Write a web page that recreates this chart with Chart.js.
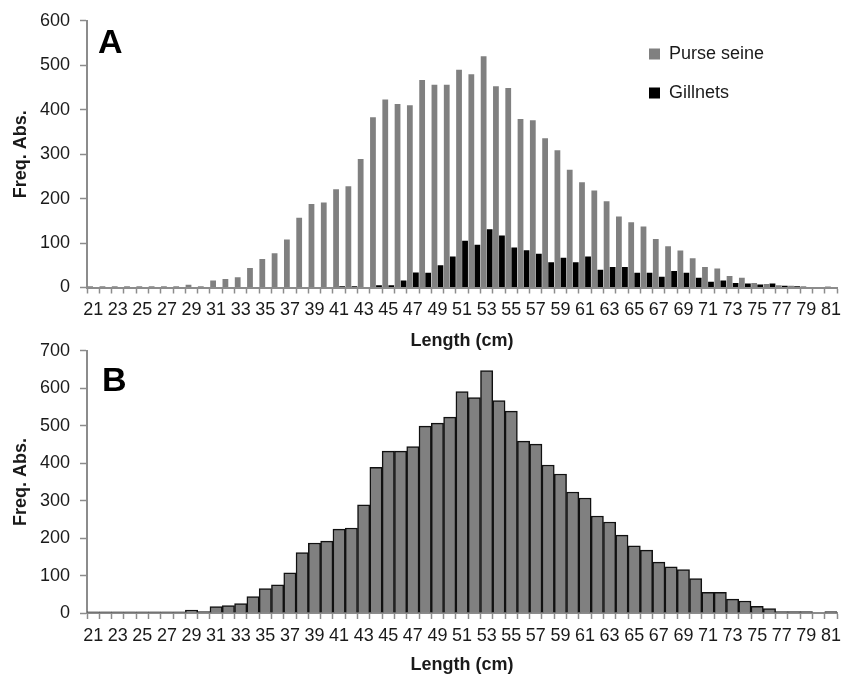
<!DOCTYPE html>
<html>
<head>
<meta charset="utf-8">
<script src="https://cdn.jsdelivr.net/npm/chart.js@4.4.1/dist/chart.umd.min.js"></script>
<style>
  body { margin: 0; background: #fff; }
  #wrap { position: relative; width: 847px; height: 682px; }
  #wrap canvas { position: absolute; left: 0; }
  #chartA { top: 0; }
  #chartB { top: 330px; }
</style>
</head>
<body>
<div id="wrap">
  <canvas id="chartA" width="847" height="355"></canvas>
  <canvas id="chartB" width="847" height="352"></canvas>
</div>
<script>
var lengths = [21,22,23,24,25,26,27,28,29,30,31,32,33,34,35,36,37,38,39,40,41,42,43,44,45,46,47,48,49,50,
  51,52,53,54,55,56,57,58,59,60,61,62,63,64,65,66,67,68,69,70,71,72,73,74,75,76,77,78,79,80,81];

// panel A
var purseSeine = [3,3,3,3,3,3,3,3,6,3,16,19,23,44,64,77,108,157,188,191,221,228,289,383,423,413,410,467,456,456,
  490,480,520,453,449,379,376,336,309,265,237,218,194,160,147,137,109,93,83,66,46,43,26,22,10,8,5,4,3,0,2];
var gillnets = [0,0,0,0,0,0,0,0,0,0,0,0,0,0,0,0,0,0,0,0,3,3,0,5,5,16,34,33,50,70,
  105,96,131,117,90,84,76,57,67,57,70,40,46,46,33,33,24,37,33,22,13,16,10,9,7,9,4,3,1,0,0];

// panel B
var total = [3,3,3,3,3,3,3,3,8,4,17,20,25,44,65,75,107,161,187,192,224,227,289,389,432,432,444,499,507,523,
  591,575,647,567,539,459,451,395,371,323,307,259,243,208,179,168,136,123,116,92,55,55,37,32,18,12,4,4,4,0,4];

var yTicksA = [0, 600, 100];
var yTicksB = [0, 700, 100];

var FONT = "'Liberation Sans', Arial, sans-serif";
var TXT = '#1a1a1a';
var AXIS = '#8c8c8c';

// big panel letter (A / B) in the upper left of the plot
var panelLetter = {
  id: 'panelLetter',
  afterDraw: function(chart, args, opts) {
    var ctx = chart.ctx;
    ctx.save();
    ctx.font = 'bold 34px ' + FONT;
    ctx.fillStyle = '#000';
    ctx.textBaseline = 'alphabetic';
    ctx.fillText(opts.text, opts.x, opts.y);
    ctx.restore();
  }
};

// move the legend (placed in chartArea) to the top right spot
var legendSpot = {
  id: 'legendSpot',
  afterLayout: function(chart, args, opts) {
    if (!chart.legend || opts.left === undefined) return;
    chart.legend.left = opts.left;
    chart.legend.top = opts.top;
  }
};

function makeOptions(yt, areaBottom, canvasH, titlePad, letter) {
  return {
    responsive: false,
    animation: false,
    devicePixelRatio: 1,
    layout: { padding: { left: 0, right: 5, top: 20, bottom: 0 } },
    plugins: {
      tooltip: { enabled: false },
      legend: { display: false },
      panelLetter: letter,
      legendSpot: {}
    },
    scales: {
      x: {
        grid: { drawOnChartArea: false, drawTicks: true, tickLength: 6, tickColor: AXIS, tickWidth: 1.5 },
        border: { display: true, color: AXIS, width: 2 },
        ticks: {
          autoSkip: false, maxRotation: 0, minRotation: 0, padding: 6,
          color: TXT, font: { family: FONT, size: 18 },
          callback: function(val, i) { return i % 2 === 0 ? this.getLabelForValue(val) : ''; }
        },
        title: { display: true, text: 'Length (cm)', color: TXT, font: { family: FONT, size: 18, weight: 'bold' },
          padding: { top: 0, bottom: titlePad } },
        afterFit: function(s) { s.height = canvasH - areaBottom; }
      },
      y: {
        min: yt[0], max: yt[1],
        grid: { drawOnChartArea: false, drawTicks: true, tickLength: 7, tickColor: AXIS, tickWidth: 1.5 },
        border: { display: true, color: AXIS, width: 2 },
        ticks: { stepSize: yt[2], padding: 10, color: TXT, font: { family: FONT, size: 18 } },
        title: { display: true, text: 'Freq. Abs.', color: TXT, font: { family: FONT, size: 18, weight: 'bold' },
          padding: { top: 10, bottom: 0 } },
        afterFit: function(s) { s.width = 87; }
      }
    }
  };
}

var optsA = makeOptions(yTicksA, 287.5, 355, 3, { text: 'A', x: 98, y: 53 });
optsA.plugins.legend = {
  display: true,
  position: 'chartArea',
  align: 'start',
  labels: { boxWidth: 11, boxHeight: 11, padding: 21, color: TXT, font: { family: FONT, size: 18 } }
};
optsA.plugins.legendSpot = { left: 628, top: 24 };

new Chart(document.getElementById('chartA'), {
  type: 'bar',
  data: {
    labels: lengths,
    datasets: [
      { label: 'Purse seine', data: purseSeine, backgroundColor: '#808080', borderWidth: 0,
        categoryPercentage: 0.98, barPercentage: 0.96 },
      { label: 'Gillnets', data: gillnets, backgroundColor: '#000000', borderWidth: 0,
        categoryPercentage: 0.98, barPercentage: 0.96 }
    ]
  },
  options: optsA,
  plugins: [panelLetter, legendSpot]
});

var optsB = makeOptions(yTicksB, 283, 352, 6, { text: 'B', x: 102, y: 61 });

new Chart(document.getElementById('chartB'), {
  type: 'bar',
  data: {
    labels: lengths,
    datasets: [
      { label: 'Total', data: total, backgroundColor: '#808080', borderColor: '#111111', borderWidth: 1.5,
        categoryPercentage: 1, barPercentage: 1 }
    ]
  },
  options: optsB,
  plugins: [panelLetter, legendSpot]
});
</script>
</body>
</html>
